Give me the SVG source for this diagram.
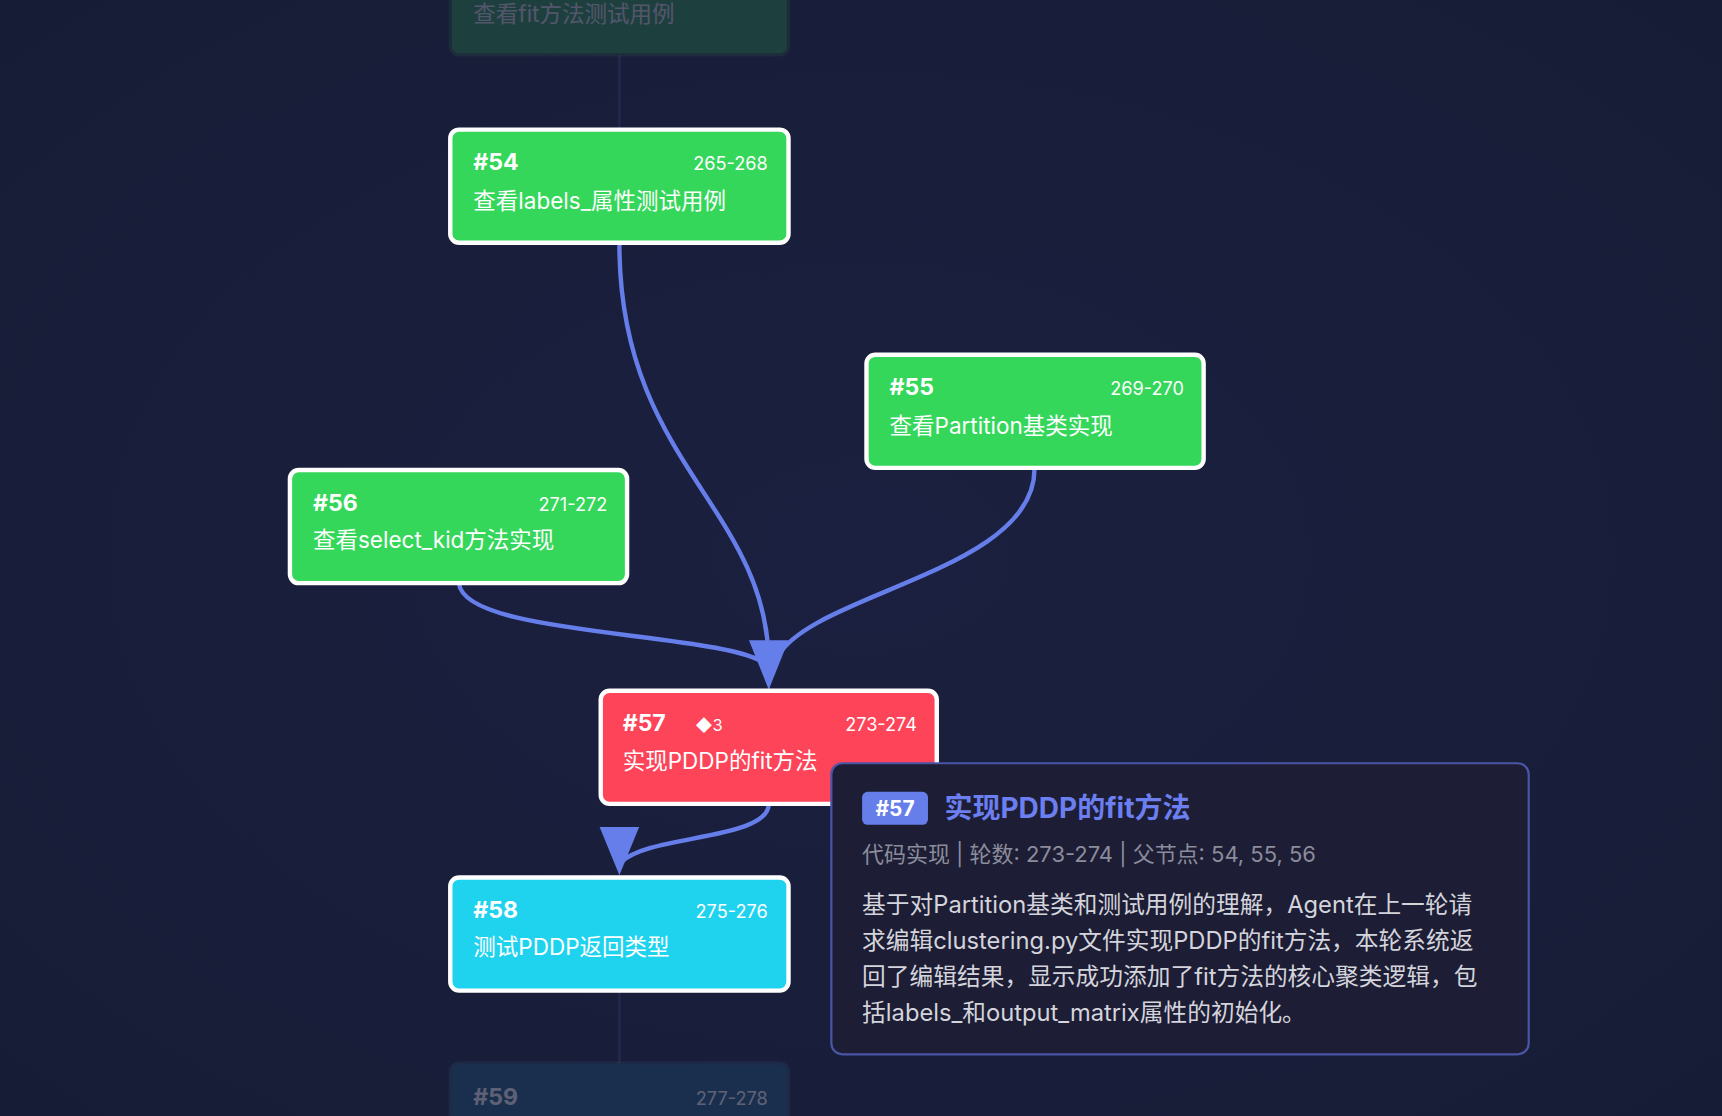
<svg xmlns="http://www.w3.org/2000/svg" width="1722" height="1116" viewBox="0 0 1722 1116">
<defs>
<style>
text{font-family:Inter,"Noto Sans CJK SC","Noto Sans",sans-serif}
.box{stroke:#fff;stroke-width:4}
.id{font-size:21px;font-weight:700;fill:#fff}
.rg{font-size:16.5px;fill:#fff;text-anchor:end}
.tt{font-size:20.5px;fill:#fff}
.e{fill:none;stroke:#667eea;stroke-width:4}
.ah{fill:#667eea}
</style>
<radialGradient id="bg" cx="0.5" cy="0.5" r="0.7"><stop offset="0" stop-color="#1b2040"/><stop offset="1" stop-color="#171c36"/></radialGradient>
</defs>
<rect width="1722" height="1116" fill="url(#bg)"/>
<g transform="scale(1.09821)">
<g id="connectors">
<path d="M564,50 L564,118" stroke="#20274a" stroke-width="3" fill="none"/>
<path d="M564,902 L564,968" stroke="#20274a" stroke-width="3" fill="none"/>
<path class="e" d="M564,222 C564,420 696,460 700,600"/>
<path class="e" d="M942,427 C942,520 740,540 708,598"/>
<path class="e" d="M418,532 C425,580 660,575 698,605"/>
<polygon class="ah" points="682,583 718,583 700,628"/>
<path class="e" d="M700,732 C700,765 590,760 566,785"/>
<polygon class="ah" points="546,753 582,753 564,797"/>
</g>
<g id="n53" opacity="0.25">
<rect x="410" y="-60" width="308" height="110" rx="8" fill="#2ea44f" stroke="#2a5a40" stroke-width="3"/>
<text x="431" y="20" class="tt">查看fit方法测试用例</text>
</g>
<g id="n54">
<rect class="box" x="410" y="118" width="308" height="103" rx="8" fill="#34d75a"/>
<text x="431" y="155" class="id">#54</text><text x="699" y="155" class="rg">265-268</text>
<text x="431" y="190" class="tt">查看labels_属性测试用例</text>
</g>
<g id="n55">
<rect class="box" x="789" y="323" width="307" height="103" rx="8" fill="#34d75a"/>
<text x="810" y="360" class="id">#55</text><text x="1078" y="360" class="rg">269-270</text>
<text x="810" y="395" class="tt">查看Partition基类实现</text>
</g>
<g id="n56">
<rect class="box" x="264" y="428" width="307" height="103" rx="8" fill="#34d75a"/>
<text x="285" y="465" class="id">#56</text><text x="553" y="465" class="rg">271-272</text>
<text x="285" y="499" class="tt">查看select_kid方法实现</text>
</g>
<g id="n57">
<rect class="box" x="547" y="629" width="306" height="103" rx="8" fill="#fd4459"/>
<text x="567" y="666" class="id">#57</text><text x="633" y="666" font-size="15" fill="#fff">◆3</text><text x="835" y="666" class="rg">273-274</text>
<text x="567" y="700" class="tt">实现PDDP的fit方法</text>
</g>
<g id="n58">
<rect class="box" x="410" y="799" width="308" height="103" rx="8" fill="#1fd3ef"/>
<text x="431" y="836" class="id">#58</text><text x="699" y="836" class="rg">275-276</text>
<text x="431" y="870" class="tt">测试PDDP返回类型</text>
</g>
<g id="n59" opacity="0.3">
<rect x="410" y="968" width="308" height="110" rx="8" fill="#1f5a80" stroke="#2a4a6a" stroke-width="3"/>
<text x="431" y="1006" class="id" fill="#9ab">#59</text><text x="699" y="1006" class="rg">277-278</text>
</g>
<g id="tooltip">
<rect x="757" y="695" width="635" height="265" rx="10" fill="#1d1e35" stroke="#4a55a5" stroke-width="2"/>
<rect x="785" y="721" width="60" height="30" rx="5" fill="#667eea"/>
<text x="815" y="743" font-size="19" font-weight="700" fill="#fff" text-anchor="middle">#57</text>
<text x="860" y="745" font-size="25.5" font-weight="700" fill="#6b7ff0">实现PDDP的fit方法</text>
<text x="785" y="785" font-size="20" fill="#8b8c9c">代码实现 | 轮数: 273-274 | 父节点: 54, 55, 56</text>
<g font-size="21.6" fill="#d4d4dc">
<text x="785" y="831">基于对Partition基类和测试用例的理解，Agent在上一轮请</text>
<text x="785" y="864">求编辑clustering.py文件实现PDDP的fit方法，本轮系统返</text>
<text x="785" y="897">回了编辑结果，显示成功添加了fit方法的核心聚类逻辑，包</text>
<text x="785" y="930">括labels_和output_matrix属性的初始化。</text>
</g>
</g>
</g>
</svg>
